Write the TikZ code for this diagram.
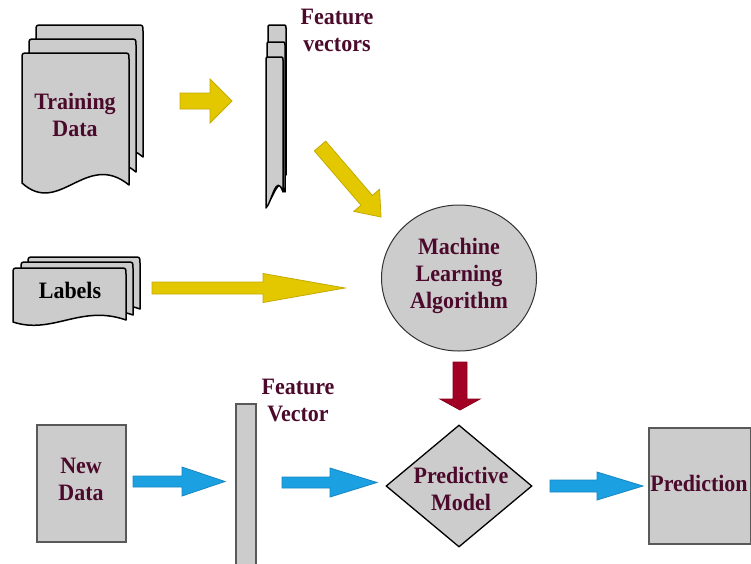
\documentclass[tikz,border=0pt]{standalone}
\usepackage{fontspec}
\setmainfont{Liberation Serif}[FakeStretch=0.935]
\usetikzlibrary{calc,shapes.geometric}

\definecolor{pagegray}{HTML}{CCCCCC}
\definecolor{txtmaroon}{HTML}{4B0A2B}
\definecolor{ylwfill}{HTML}{E3C800}
\definecolor{ylwline}{HTML}{C4AA00}
\definecolor{bluefill}{HTML}{1BA1E2}
\definecolor{blueline}{HTML}{1A86C0}
\definecolor{redfill}{HTML}{A20025}
\definecolor{redline}{HTML}{860019}

% one sheet of a document stack: x0, y0, width, height, wave up, wave down, left-end offset, corner
\newcommand{\docpage}[8]{%
  \filldraw[docpage] (#1,#2+#4+#7) -- (#1,#2+#8) .. controls (#1,#2) .. (#1+#8,#2)
    -- (#1+#3-#8,#2) .. controls (#1+#3,#2) .. (#1+#3,#2+#8) -- (#1+#3,#2+#4)
    .. controls (#1+0.6*#3,#2+#4-#5) and (#1+0.35*#3,#2+#4+#6) .. (#1,#2+#4+#7) -- cycle;}

% block arrow: [style] from, tip, shaft half width, head half width, head length
\newcommand{\fatarrow}[6][]{%
  \coordinate (fa-b) at ($(#3)!#6!(#2)$);
  \path[#1] ($(#2)!#4!90:(#3)$) -- ($(fa-b)!#4!90:(#3)$) -- ($(fa-b)!#5!90:(#3)$)
    -- (#3) -- ($(fa-b)!#5!-90:(#3)$) -- ($(fa-b)!#4!-90:(#3)$) -- ($(#2)!#4!-90:(#3)$) -- cycle;}

\tikzset{
  docpage/.style={fill=pagegray, draw=black, line width=1.5pt, line join=round},
  lbl/.style={font=\fontsize{23.5}{27}\selectfont\bfseries, text=txtmaroon, align=center, inner sep=0pt},
  plainbox/.style={rectangle, fill=pagegray, draw=black!65, line width=1.2pt, inner sep=0pt},
  yellowarrow/.style={fill=ylwfill, draw=ylwline, line width=0.8pt},
  bluearrow/.style={fill=bluefill, draw=blueline, line width=0.8pt},
  redarrow/.style={fill=redfill, draw=redline, line width=0.8pt},
}

\begin{document}
\begin{tikzpicture}[x=1pt, y=-1pt]
\useasboundingbox (0,0) rectangle (751,563);
\clip (0,0) rectangle (751,563);

% training data stack
\docpage{36}{25}{107}{132}{35}{32}{-2}{6}
\docpage{29}{39}{107}{133}{35}{32}{-2}{6}
\docpage{22}{53}{107}{132}{35}{32}{-2}{6}
\node[lbl] (train) at (75,115) {Training\\Data};

% feature vectors stack
\docpage{268}{25}{18}{150}{20}{10}{8}{3}
\docpage{267}{42}{18}{150}{20}{10}{10}{3}
\docpage{266}{57}{17}{135}{20}{10}{16}{3}
\node[lbl] (fvecs) at (337,30) {Feature\\vectors};

% labels stack
\docpage{28}{257}{112}{52}{16}{15}{2}{6}
\docpage{21}{262}{112}{53}{16}{15}{2}{6}
\docpage{13}{268}{113}{52}{16}{15}{2}{6}
\node[lbl, text=black, anchor=base] (labels) at (70,298) {Labels};

% learning algorithm
\node[ellipse, fill=pagegray, draw=black!80, line width=1pt, minimum width=155pt,
      minimum height=146pt, inner sep=0pt] (ml) at (459,278) {};
\node[lbl] (mltext) at (459,276) {Machine\\Learning\\Algorithm};

% prediction pipeline
\node[plainbox, minimum width=89pt, minimum height=117pt] (newdata) at (81.5,483.5) {};
\node[lbl] (newtext) at (81,479) {New\\Data};
\node[plainbox, minimum width=20pt, minimum height=164pt] (fvbar) at (246,486) {};
\node[lbl] (fvec) at (298,400) {Feature\\Vector};
\node[diamond, fill=pagegray, draw=black, line width=1.3pt, minimum width=146pt,
      minimum height=122pt, inner sep=0pt] (model) at (459,486) {};
\node[lbl] (modeltext) at (461,489) {Predictive\\Model};
\node[plainbox, minimum width=102pt, minimum height=116pt] (predbox) at (700,486) {};
\node[lbl, anchor=base] (predtext) at (699,491) {Prediction};

% arrow end points
\coordinate (y1-from) at (180,101);  \coordinate (y1-to) at (232,101);
\coordinate (y2-from) at (320,146);  \coordinate (y2-to) at (381,217);
\coordinate (y3-from) at (152,288);  \coordinate (y3-to) at (345,288);
\coordinate (r1-from) at (460,362);  \coordinate (r1-to) at (460,410);
\coordinate (b1-from) at (133,481.5); \coordinate (b1-to) at (225,481.5);
\coordinate (b2-from) at (282,482.5); \coordinate (b2-to) at (377,482.5);
\coordinate (b3-from) at (550,486);  \coordinate (b3-to) at (643,486);

\fatarrow[yellowarrow]{y1-from}{y1-to}{8pt}{22pt}{22pt}
\fatarrow[yellowarrow]{y2-from}{y2-to}{7.5pt}{17pt}{22pt}
\fatarrow[yellowarrow]{y3-from}{y3-to}{6pt}{14.5pt}{82pt}
\fatarrow[redarrow]{r1-from}{r1-to}{7pt}{20pt}{11pt}
\fatarrow[bluearrow]{b1-from}{b1-to}{5.5pt}{14.5pt}{43pt}
\fatarrow[bluearrow]{b2-from}{b2-to}{5.5pt}{14.5pt}{47pt}
\fatarrow[bluearrow]{b3-from}{b3-to}{6pt}{14pt}{46pt}
\end{tikzpicture}
\end{document}
